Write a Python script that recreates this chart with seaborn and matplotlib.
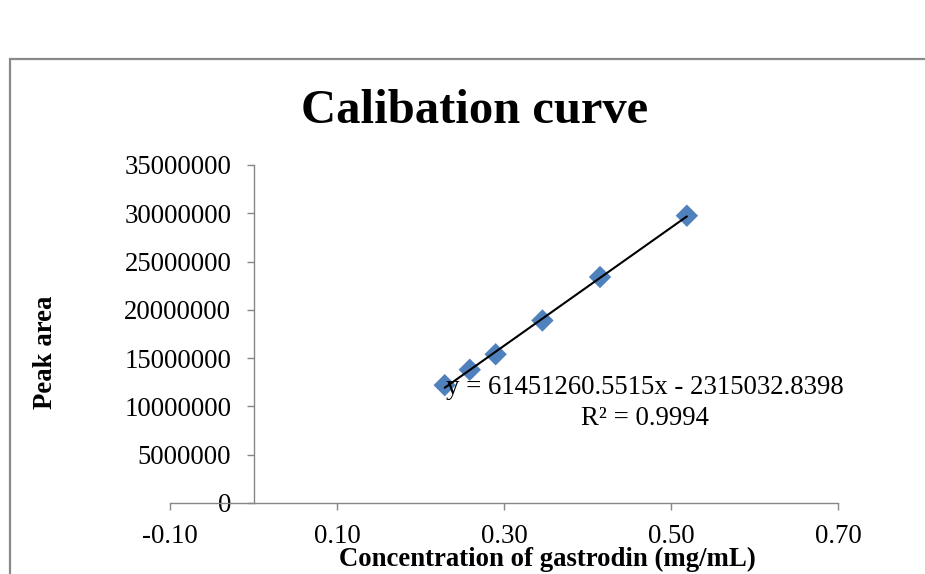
import numpy as np
import pandas as pd
import matplotlib
matplotlib.use("Agg")
import matplotlib.pyplot as plt
import seaborn as sns
from matplotlib.patches import Rectangle

# ---- data ----
conc = [0.229, 0.259, 0.290, 0.346, 0.415, 0.519]
peak_area = [12.2e6, 13.8e6, 15.4e6, 18.9e6, 23.4e6, 29.75e6]
x_ticks = [-0.10, 0.10, 0.30, 0.50, 0.70]
y_ticks = [0, 5000000, 10000000, 15000000, 20000000, 25000000, 30000000, 35000000]
title = "Calibation curve"
x_label = "Concentration of gastrodin (mg/mL)"
y_label = "Peak area"
equation = "y = 61451260.5515x - 2315032.8398"
r2_text = "R² = 0.9994"

sns.set_theme(style="white")
plt.rcParams['font.family'] = ['Liberation Serif', 'DejaVu Serif']
plt.rcParams['text.color'] = 'black'

W, H = 925, 574
fig = plt.figure(figsize=(W / 100, H / 100), dpi=100)
ax = fig.add_axes([170 / W, (H - 503) / H, 668 / W, 338 / H])
ax.patch.set_alpha(0)

df = pd.DataFrame({"conc": conc, "area": peak_area})
sns.regplot(data=df, x="conc", y="area", ax=ax, ci=None, truncate=True,
            marker="D", color="#4F81BD",
            scatter_kws=dict(s=130, edgecolor="none", alpha=1, zorder=2),
            line_kws=dict(color="black", lw=1.5, zorder=3))

ax.set_xlim(-0.1, 0.7)
ax.set_ylim(0, 35000000)
ax.set_xticks(x_ticks)
ax.set_xticklabels([f"{v:.2f}" for v in x_ticks])
ax.set_yticks(y_ticks)
ax.set_yticklabels([str(v) for v in y_ticks])
ax.set_xlabel("")
ax.set_ylabel("")

fs = 19.3
axis_col = "#868686"
for s in ["top", "right"]:
    ax.spines[s].set_visible(False)
ax.spines["left"].set_position(("data", 0))
for s in ["left", "bottom"]:
    ax.spines[s].set_color(axis_col)
    ax.spines[s].set_linewidth(1.0)
ax.tick_params(axis="both", which="both", direction="out", length=5, width=1.0,
               color=axis_col, labelsize=fs, labelcolor="black")
ax.tick_params(axis="x", pad=10, bottom=True)
ax.tick_params(axis="y", pad=11, left=True)

# equation annotation
ax.text((645 - 170) / 668, (503 - 394) / 338, equation, transform=ax.transAxes,
        ha="center", va="baseline", fontsize=fs, color="black", zorder=5)
ax.text((645 - 170) / 668, (503 - 425) / 338, r2_text, transform=ax.transAxes,
        ha="center", va="baseline", fontsize=fs, color="black", zorder=5)

# titles / labels
fig.text(475 / W, 1 - 123 / H, title, ha="center", va="baseline",
         fontsize=35, fontweight="bold", color="black")
fig.text(547 / W, 2 / H, x_label, ha="center", va="bottom",
         fontsize=fs, fontweight="bold", color="black")
fig.text(45 / W, 1 - 352.5 / H, y_label, ha="center", va="center",
         rotation=90, fontsize=fs, fontweight="bold", color="black")

# chart-area border
fig.add_artist(Rectangle((10 / W, -0.2), 1.2, (1 - 59 / H) + 0.2,
                         transform=fig.transFigure, fill=False,
                         edgecolor="#898989", lw=1.6))

fig.savefig("out.png", dpi=100)
